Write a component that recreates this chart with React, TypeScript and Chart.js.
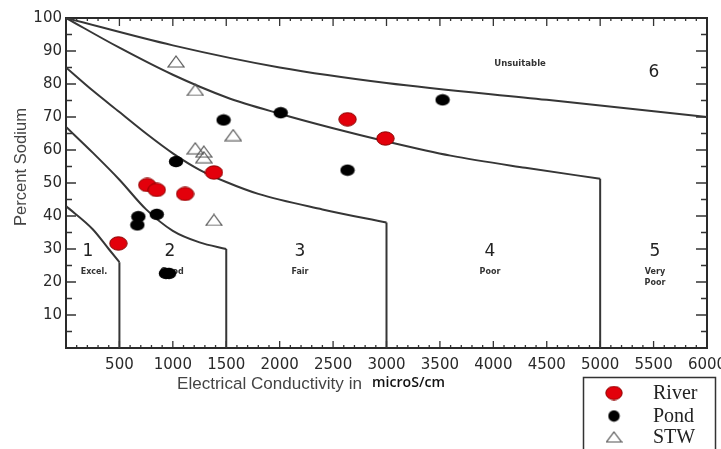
import React, { useEffect, useRef } from "react";
import { Chart, registerables } from "chart.js";
Chart.register(...registerables);

// ---- tick labels ----
const X_TICKS = [0, 500, 1000, 1500, 2000, 2500, 3000, 3500, 4000, 4500, 5000, 5500, 6000];
const Y_TICKS = [0, 10, 20, 30, 40, 50, 60, 70, 80, 90, 100];

// ---- samples ----
const riverX = [490, 760, 850, 1115, 1385, 2635, 2990];
const riverY = [31.7, 49.4, 47.9, 46.7, 53.2, 69.3, 63.5];
const pondX = [668, 677, 850, 935, 965, 1030, 1475, 2010, 2635, 3525];
const pondY = [37.3, 39.8, 40.5, 22.6, 22.6, 56.5, 69.1, 71.3, 53.9, 75.2];
const stwX = [1030, 1210, 1210, 1290, 1290, 1565, 1385];
const stwY = [86.8, 78.2, 60.5, 59.5, 57.8, 64.5, 38.8];

// ---- class boundaries (Wilcox) ----
const curve1X = [0, 1000, 2000, 3000, 4500, 6000];
const curve1Y = [100, 91.7, 85, 80.3, 75.2, 70];
const curve2X = [0, 500, 1000, 1500, 2000, 2500, 3000, 3600, 4300, 5000];
const curve2Y = [100, 91, 82.8, 76, 71, 66.6, 62.6, 58.3, 54.6, 51.3];
const curve3X = [0, 250, 500, 750, 1000, 1250, 1500, 1800, 2400, 3000];
const curve3Y = [85, 78, 71.5, 65, 59, 54, 50.3, 46.7, 42, 38];
const curve4X = [0, 250, 500, 750, 1000, 1250, 1500];
const curve4Y = [67, 59.2, 51, 42, 35.5, 32, 30];
const curve5X = [0, 250, 400, 500];
const curve5Y = [43, 36, 30, 26];

// ---- zone annotations ----
const zoneNums = ["1", "2", "3", "4", "5"];
const zoneNumX = [206, 973, 2190, 3969, 5513];
const zoneNumY = [29.2, 29.2, 29.2, 29.2, 29.2];
const zoneNames = ["Excel.", "Good", "Fair", "Poor", "Very"];
const zoneNameX = [262, 992, 2190, 3969, 5513];
const zoneNameY = [23, 23, 23, 23, 23.1];

const seriesNames = ["River", "Pond", "STW"];

function pts(xs: number[], ys: number[]) {
  return xs.map((x, i) => ({ x, y: ys[i] }));
}

function ellipseCanvas(w: number, h: number, fill: string, stroke: string | null) {
  const c = document.createElement("canvas");
  c.width = w;
  c.height = h;
  const g = c.getContext("2d")!;
  g.beginPath();
  g.ellipse(w / 2, h / 2, w / 2 - 0.8, h / 2 - 0.8, 0, 0, Math.PI * 2);
  g.fillStyle = fill;
  g.fill();
  if (stroke) {
    g.lineWidth = 1;
    g.strokeStyle = stroke;
    g.stroke();
  }
  return c;
}

function triangleCanvas(w: number, h: number) {
  const c = document.createElement("canvas");
  c.width = w;
  c.height = h;
  const g = c.getContext("2d")!;
  g.beginPath();
  g.moveTo(w / 2, 1);
  g.lineTo(w - 1, h - 1);
  g.lineTo(1, h - 1);
  g.closePath();
  g.lineWidth = 1.2;
  g.strokeStyle = "#555";
  g.stroke();
  return c;
}

export default function App() {
  const ref = useRef<HTMLCanvasElement | null>(null);

  useEffect(() => {
    document.body.style.margin = "0";
    const canvas = ref.current!;
    const riverImg = ellipseCanvas(19, 15, "#e3000b", "#8a0000");
    const pondImg = ellipseCanvas(16, 13, "#000", null);
    const stwImg = triangleCanvas(18, 13);

    const line = (xs: number[], ys: number[]) => ({
      type: "line" as const,
      data: pts(xs, ys),
      showLine: true,
      pointRadius: 0,
      borderColor: "#363636",
      borderWidth: 2,
      cubicInterpolationMode: "monotone" as const,
      fill: false,
    });
    const drop = (xs: number[], ys: number[]) => ({
      type: "line" as const,
      data: [
        { x: xs[xs.length - 1], y: ys[ys.length - 1] },
        { x: xs[xs.length - 1], y: 0 },
      ],
      showLine: true,
      pointRadius: 0,
      borderColor: "#363636",
      borderWidth: 2,
      tension: 0,
      fill: false,
    });

    const decor = {
      id: "decor",
      beforeDatasetsDraw(chart: any) {
        const { ctx, chartArea: a, scales } = chart;
        const xs = scales.x;
        const ys = scales.y;
        ctx.save();
        // zone labels
        ctx.fillStyle = "#222";
        ctx.textAlign = "center";
        ctx.textBaseline = "middle";
        ctx.font = "17px 'DejaVu Sans'";
        zoneNums.forEach((t, i) => {
          ctx.fillText(t, xs.getPixelForValue(zoneNumX[i]), ys.getPixelForValue(zoneNumY[i]));
        });
        ctx.fillText("6", xs.getPixelForValue(5504), ys.getPixelForValue(83.6));
        ctx.font = "bold 8px 'DejaVu Sans'";
        ctx.fillStyle = "#333";
        zoneNames.forEach((t, i) => {
          ctx.fillText(t, xs.getPixelForValue(zoneNameX[i]), ys.getPixelForValue(zoneNameY[i]));
        });
        ctx.fillText("Poor", xs.getPixelForValue(5513), ys.getPixelForValue(19.6));
        ctx.font = "bold 8.5px 'DejaVu Sans'";
        ctx.fillText("Unsuitable", xs.getPixelForValue(4250), ys.getPixelForValue(86));

        // ticks
        ctx.strokeStyle = "#333";
        ctx.lineWidth = 1.3;
        ctx.beginPath();
        for (let v = 0; v <= 6000; v += 100) {
          const px = xs.getPixelForValue(v);
          const major = v % 500 === 0;
          ctx.moveTo(px, a.bottom);
          ctx.lineTo(px, a.bottom - (major ? 7 : 3));
          ctx.moveTo(px, a.top);
          ctx.lineTo(px, a.top + (major ? 8 : 3));
        }
        for (let v = 0; v <= 100; v += 5) {
          const py = ys.getPixelForValue(v);
          const major = v % 10 === 0;
          ctx.moveTo(a.left, py);
          ctx.lineTo(a.left + (major ? 10 : 6), py);
          ctx.moveTo(a.right, py);
          ctx.lineTo(a.right - (major ? 11 : 6), py);
        }
        ctx.stroke();
        // frame
        ctx.lineWidth = 2;
        ctx.strokeStyle = "#2a2a2a";
        ctx.strokeRect(a.left, a.top, a.right - a.left, a.bottom - a.top);
        ctx.restore();
      },
      afterDraw(chart: any) {
        const { ctx } = chart;
        ctx.save();
        const fit = (text: string, target: number, weight: string, fam: string) => {
          ctx.font = `${weight} 100px ${fam}`;
          const w = ctx.measureText(text).width;
          return (100 * target) / w;
        };
        // x title
        ctx.textBaseline = "middle";
        ctx.textAlign = "left";
        const t1 = "Electrical Conductivity in";
        const s1 = fit(t1, 185, "normal", "'Liberation Sans'");
        ctx.font = `normal ${s1}px 'Liberation Sans'`;
        ctx.fillStyle = "#444";
        ctx.fillText(t1, 177, 384);
        const t2 = "microS/cm";
        const s2 = fit(t2, 73, "600", "'Open Sans'");
        ctx.font = `600 ${s2}px 'Open Sans'`;
        ctx.fillStyle = "#111";
        ctx.fillText(t2, 372, 383);
        // y title
        const t3 = "Percent Sodium";
        const s3 = fit(t3, 118, "normal", "'Liberation Sans'");
        ctx.font = `normal ${s3}px 'Liberation Sans'`;
        ctx.fillStyle = "#444";
        ctx.translate(21, 167);
        ctx.rotate(-Math.PI / 2);
        ctx.textAlign = "center";
        ctx.fillText(t3, 0, 0);
        ctx.restore();

        // legend
        ctx.save();
        ctx.lineWidth = 1.5;
        ctx.strokeStyle = "#333";
        ctx.fillStyle = "#fff";
        ctx.fillRect(583, 377, 133, 80);
        ctx.strokeRect(583.5, 377.5, 132, 80);
        const imgs = [
          ellipseCanvas(18, 15, "#e3000b", "#8a0000"),
          ellipseCanvas(13, 13, "#000", null),
          triangleCanvas(17, 12),
        ];
        const rowY = [393, 416, 437];
        ctx.font = "20px 'Liberation Serif'";
        ctx.fillStyle = "#222";
        ctx.textBaseline = "middle";
        ctx.textAlign = "left";
        seriesNames.forEach((n, i) => {
          const im = imgs[i];
          ctx.drawImage(im, 614 - im.width / 2, rowY[i] - im.height / 2);
          ctx.fillText(n, 653, rowY[i] + 1);
        });
        ctx.restore();
      },
    };

    const chart = new Chart(canvas, {
      type: "scatter",
      data: {
        datasets: [
          { label: "STW", data: pts(stwX, stwY), pointStyle: stwImg as any, pointRadius: 8 },
          { label: "Pond", data: pts(pondX, pondY), pointStyle: pondImg as any, pointRadius: 8 },
          { label: "River", data: pts(riverX, riverY), pointStyle: riverImg as any, pointRadius: 8 },
          line(curve1X, curve1Y),
          line(curve2X, curve2Y),
          line(curve3X, curve3Y),
          line(curve4X, curve4Y),
          line(curve5X, curve5Y),
          drop(curve2X, curve2Y),
          drop(curve3X, curve3Y),
          drop(curve4X, curve4Y),
          drop(curve5X, curve5Y),
        ] as any,
      },
      options: {
        responsive: false,
        animation: false,
        devicePixelRatio: 1,
        events: [],
        layout: { padding: { top: 18, right: 14, left: 0, bottom: 0 } },
        plugins: { legend: { display: false }, tooltip: { enabled: false } },
        scales: {
          x: {
            type: "linear",
            min: 0,
            max: 6000,
            afterBuildTicks: (s: any) => {
              s.ticks = X_TICKS.map((v) => ({ value: v }));
            },
            afterFit: (s: any) => {
              s.height = 101;
              s.paddingLeft = 0;
              s.paddingRight = 0;
            },
            ticks: {
              autoSkip: false,
              maxRotation: 0,
              padding: 8,
              color: "#2a2a2a",
              font: { family: "'DejaVu Sans'", size: 15 },
              callback: (v: any) => (Number(v) === 0 ? "" : String(v)),
            },
            grid: { display: false, drawTicks: false },
            border: { display: false },
          },
          y: {
            type: "linear",
            min: 0,
            max: 100,
            afterBuildTicks: (s: any) => {
              s.ticks = Y_TICKS.map((v) => ({ value: v }));
            },
            afterFit: (s: any) => {
              s.width = 66;
              s.paddingTop = 0;
              s.paddingBottom = 0;
            },
            ticks: {
              autoSkip: false,
              padding: 4,
              color: "#2a2a2a",
              font: { family: "'DejaVu Sans'", size: 15 },
              callback: (v: any) => (Number(v) === 0 ? "" : String(v)),
            },
            grid: { display: false, drawTicks: false },
            border: { display: false },
          },
        },
      } as any,
      plugins: [decor],
    });
    return () => chart.destroy();
  }, []);

  return (
    <div style={{ position: "fixed", left: 0, top: 0, width: 721, height: 449, background: "#fff" }}>
      <canvas ref={ref} width={721} height={449} style={{ width: 721, height: 449, display: "block" }} />
    </div>
  );
}
